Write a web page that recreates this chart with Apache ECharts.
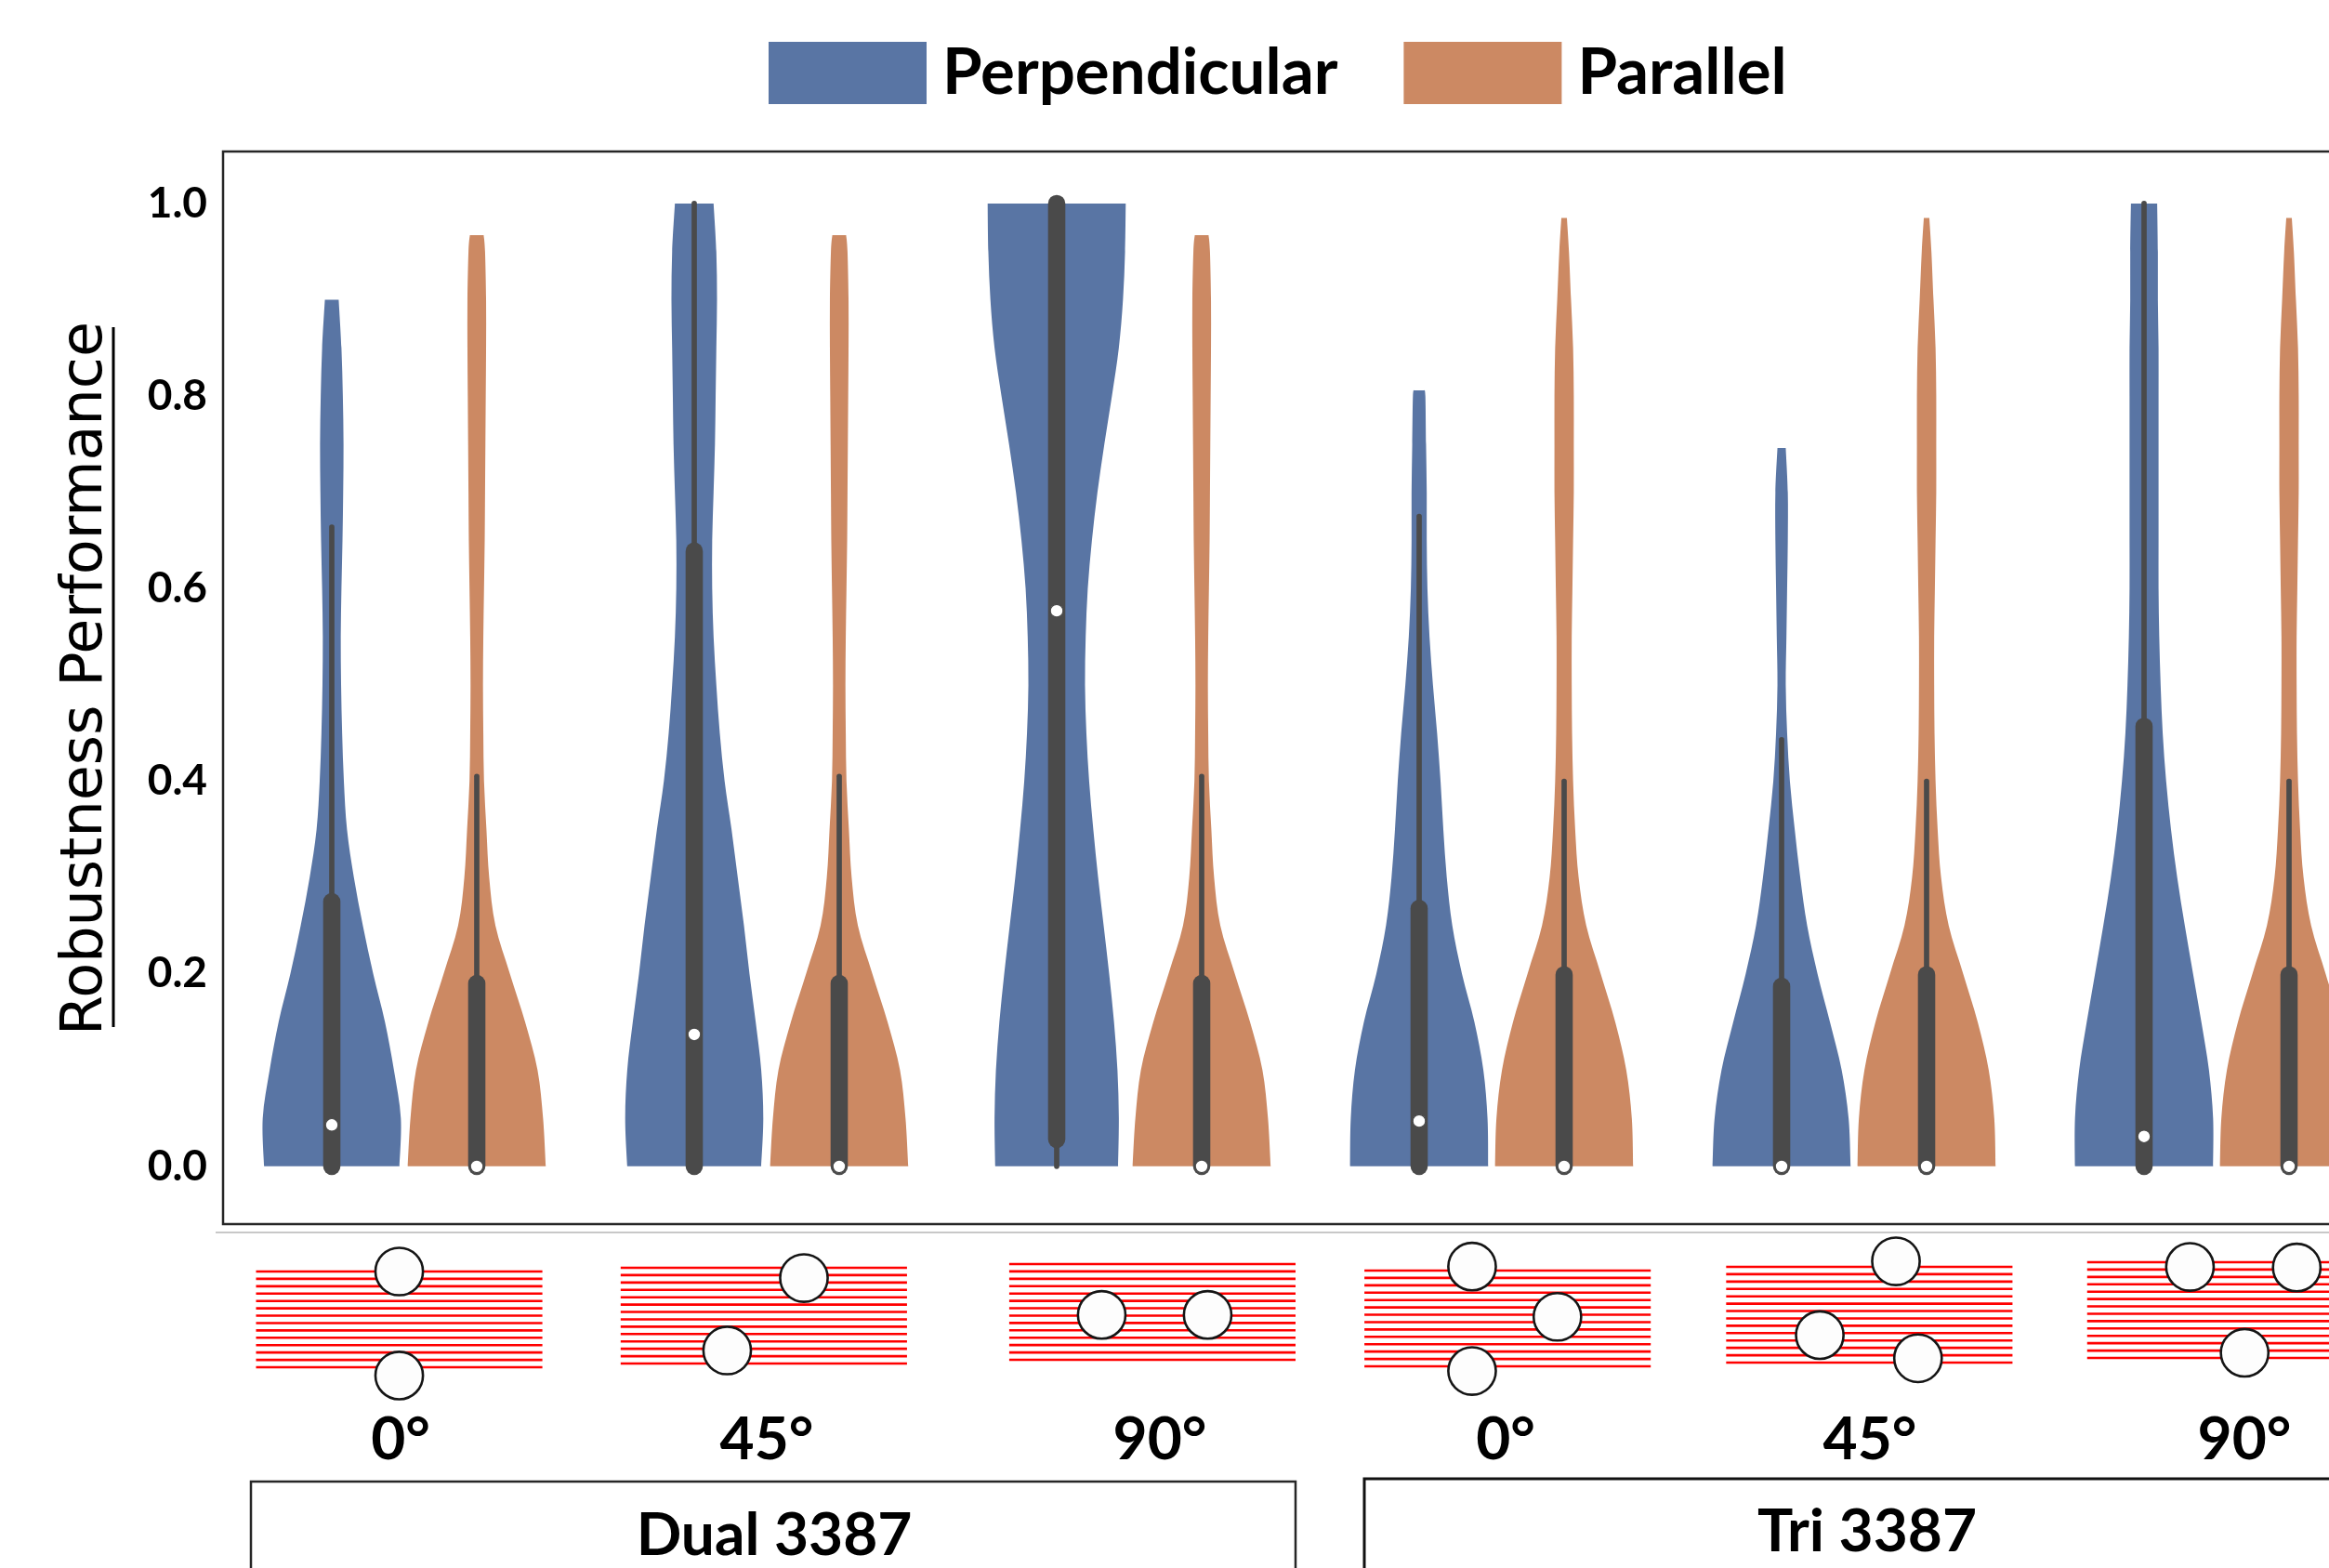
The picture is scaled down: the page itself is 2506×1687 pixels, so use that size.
<!DOCTYPE html>
<html><head><meta charset="utf-8">
<script src="https://cdn.jsdelivr.net/npm/echarts@6/dist/echarts.min.js"></script>
<style>html,body{margin:0;padding:0;background:#fff}#c{width:2506px;height:1687px}</style>
</head><body><div id="c"></div>
<script>
// ---------------- data ----------------
const angles = ['0°', '45°', '90°', '0°', '45°', '90°'];
const configs = ['Dual 3387', 'Dual 3387', 'Dual 3387', 'Tri 3387', 'Tri 3387', 'Tri 3387'];
const categories = angles.map((a, i) => configs[i] + ' ' + a);
const groupNames = ['Dual 3387', 'Tri 3387'];
const seriesNames = ['Perpendicular', 'Parallel'];
const yTicks = [0, 0.2, 0.4, 0.6, 0.8, 1.0];
const STEP = 0.05; // violin widths are read every 0.05, last entry is at the violin top

// Perpendicular violins: top value, relative widths (% of max), box stats [low, q1, median, q3, high]
const perpTop = [0.90, 1.0, 1.0, 0.806, 0.746, 1.0];
const perpWidth = [
  [98, 100, 90, 77, 60, 45, 32, 22, 17.5, 15, 13.5, 13, 14, 15.5, 16.5, 17, 16, 14, 10],
  [97, 100, 97, 89, 80, 72, 63, 54, 44, 37, 32, 28, 26, 26, 28, 30, 31, 32, 33, 32, 28],
  [89, 90, 88, 83, 76, 68, 60, 53, 47, 43, 41, 42, 45, 51, 59, 69, 80, 90, 96, 99, 100],
  [100, 99, 93, 80, 62, 48, 40, 35, 31, 26, 20, 15, 12, 11, 11, 10, 9, 7],
  [100, 97, 87, 70, 52, 37, 27, 19, 12, 8, 6, 7, 8, 9, 9, 6],
  [100, 100, 94, 83, 71, 59, 48, 39, 32, 27, 24, 22, 21, 21, 21, 21, 21, 21, 20, 20, 19]
];
const perpStats = [
  [0, 0, 0.043, 0.275, 0.664],
  [0, 0, 0.137, 0.639, 1.0],
  [0, 0.028, 0.577, 1.0, 1.0],
  [0, 0, 0.047, 0.268, 0.675],
  [0, 0, 0, 0.187, 0.443],
  [0, 0, 0.031, 0.457, 1.0]
];
// Parallel violins
const paraTop = [0.967, 0.967, 0.967, 0.985, 0.985, 0.985];
const paraWidth = [
  [100, 96, 88, 70, 48, 27, 18, 14, 10.5, 9.5, 9, 9.5, 10.5, 11.5, 12, 12.5, 13, 13.5, 13.5, 12, 10],
  [100, 96, 88, 70, 48, 27, 18, 14, 10.5, 9.5, 9, 9.5, 10.5, 11.5, 12, 12.5, 13, 13.5, 13.5, 12, 10],
  [100, 96, 88, 70, 48, 27, 18, 14, 10.5, 9.5, 9, 9.5, 10.5, 11.5, 12, 12.5, 13, 13.5, 13.5, 12, 10],
  [100, 98, 90, 74, 53, 32, 21, 16, 13, 11.5, 11, 11, 12, 13, 14, 14, 14, 13, 10, 7, 4],
  [100, 98, 90, 74, 53, 32, 21, 16, 13, 11.5, 11, 11, 12, 13, 14, 14, 14, 13, 10, 7, 4],
  [100, 98, 90, 74, 53, 32, 21, 16, 13, 11.5, 11, 11, 12, 13, 14, 14, 14, 13, 10, 7, 4]
];
const paraStats = [
  [0, 0, 0, 0.19, 0.405],
  [0, 0, 0, 0.19, 0.405],
  [0, 0, 0, 0.19, 0.405],
  [0, 0, 0, 0.199, 0.40],
  [0, 0, 0, 0.199, 0.40],
  [0, 0, 0, 0.199, 0.40]
];

// Schematic of each configuration: hole centres as fractions of the striped pad (x from pad centre, y from pad top)
const padHoles = [
  [[0, 0], [0, 1.087]],
  [[0.140, 0.107], [-0.128, 0.864]],
  [[-0.177, 0.531], [0.193, 0.531]],
  [[-0.124, -0.042], [0.174, 0.483], [-0.124, 1.049]],
  [[0.093, -0.058], [-0.173, 0.713], [0.170, 0.955]],
  [[-0.141, 0.049], [0.232, 0.055], [0.050, 0.946]]
];

// ---------------- layout / style ----------------
const BLUE = '#5975a4', ORANGE = '#cc8963', GRAY = '#4a4a4a';
const BOLD = 'Lato, "Noto Sans", sans-serif';
const padShift = [-0.014, -0.008, 0.064, 0.044, 0.042, 0.038]; // pad centre offset (band fraction)
const padTop = [38, 34, 30, 37, 33, 28];                        // in schematic-grid units (px)
const labelShift = [-4, 0, 33, 15, 17, 30];                     // px
const PAD_W = 0.79, PAD_H = 103, PAD_LINES = 14, HOLE_R = 0.083;
const HALF_MAX = 0.1905, DODGE = 0.2;

function smoothSide(pts) {
  let d = '';
  for (let k = 0; k < pts.length - 1; k++) {
    const p0 = pts[Math.max(k - 1, 0)], p1 = pts[k], p2 = pts[k + 1], p3 = pts[Math.min(k + 2, pts.length - 1)];
    const c1 = [p1[0] + (p2[0] - p0[0]) / 6, p1[1] + (p2[1] - p0[1]) / 6];
    const c2 = [p2[0] - (p3[0] - p1[0]) / 6, p2[1] - (p3[1] - p1[1]) / 6];
    d += ` C${c1[0]},${c1[1]} ${c2[0]},${c2[1]} ${p2[0]},${p2[1]}`;
  }
  return d;
}

function violinSeries(name, color, widths, tops, stats, offset) {
  return {
    type: 'custom', name, xAxisIndex: 0, yAxisIndex: 0,
    itemStyle: { color },
    data: categories.map((c, i) => [i]),
    renderItem(params, api) {
      const i = api.value(0);
      const band = api.size([1, 0])[0];
      const cx = api.coord([i, 0])[0] + offset * band;
      const prof = widths[i], top = tops[i];
      const maxHalf = HALF_MAX * band;
      const R = [], L = [];
      prof.forEach((w, k) => {
        const v = k === prof.length - 1 ? top : k * STEP;
        const y = api.coord([i, v])[1];
        const hw = w / 100 * maxHalf;
        R.push([cx + hw, y]); L.push([cx - hw, y]);
      });
      const Lr = L.slice().reverse();
      const d = `M${L[0][0]},${L[0][1]} L${R[0][0]},${R[0][1]}` + smoothSide(R) +
        ` L${Lr[0][0]},${Lr[0][1]}` + smoothSide(Lr) + ' Z';
      const s = stats[i];
      const yl = api.coord([i, s[0]])[1], yq1 = api.coord([i, s[1]])[1], ym = api.coord([i, s[2]])[1],
        yq3 = api.coord([i, s[3]])[1], yh = api.coord([i, s[4]])[1];
      return {
        type: 'group', children: [
          { type: 'path', shape: { pathData: d }, style: { fill: color } },
          { type: 'line', shape: { x1: cx, y1: yl, x2: cx, y2: yh }, style: { stroke: GRAY, lineWidth: 5.7, lineCap: 'round' } },
          { type: 'line', shape: { x1: cx, y1: yq1, x2: cx, y2: yq3 }, style: { stroke: GRAY, lineWidth: 18.6, lineCap: 'round' } },
          { type: 'circle', shape: { cx, cy: ym, r: 6.8 }, style: { fill: '#fff', stroke: GRAY, lineWidth: 1.2 } }
        ]
      };
    }
  };
}

const schematicSeries = {
  type: 'custom', name: 'schematic', xAxisIndex: 1, yAxisIndex: 1, silent: true,
  data: categories.map((c, i) => [i]),
  renderItem(params, api) {
    const i = api.value(0);
    const band = api.size([1, 0])[0];
    const cx = api.coord([i, 0])[0] + padShift[i] * band;
    const w = PAD_W * band;
    const top = api.coord([i, padTop[i]])[1];
    const h = api.size([0, PAD_H])[1];
    const children = [];
    for (let k = 0; k < PAD_LINES; k++) {
      const y = top + k * h / (PAD_LINES - 1);
      children.push({ type: 'line', shape: { x1: cx - w / 2, y1: y, x2: cx + w / 2, y2: y }, style: { stroke: '#ff0000', lineWidth: 2.6 } });
    }
    padHoles[i].forEach(p => {
      children.push({ type: 'circle', shape: { cx: cx + p[0] * w, cy: top + p[1] * h, r: HOLE_R * w },
        style: { fill: '#fdfdfd', stroke: '#151515', lineWidth: 2.6 } });
    });
    return { type: 'group', children };
  }
};

const chart = echarts.init(document.getElementById('c'), null, { renderer: 'canvas' });
chart.setOption({
  backgroundColor: '#fff',
  animation: false,
  legend: {
    data: seriesNames, left: 827, top: 44, padding: 0,
    icon: 'rect', itemWidth: 170, itemHeight: 67, itemGap: 71,
    textStyle: { fontFamily: BOLD, fontWeight: 'bold', fontSize: 69, color: '#000', padding: [0, 0, 0, 12] }
  },
  grid: [
    { left: 240, top: 163, width: 2340, height: 1154, outerBoundsMode: 'none', containLabel: false,
      show: true, borderColor: '#262626', borderWidth: 2.5, backgroundColor: 'transparent' },
    { left: 240, top: 1330, width: 2340, height: 200, outerBoundsMode: 'none', containLabel: false }
  ],
  xAxis: [
    {
      type: 'category', gridIndex: 0, boundaryGap: true,
      data: categories.map((c, i) => ({
        value: c,
        textStyle: { padding: labelShift[i] >= 0 ? [0, 0, 0, 2 * labelShift[i]] : [0, -2 * labelShift[i], 0, 0] }
      })),
      axisLine: { show: false }, axisTick: { show: false }, splitLine: { show: false },
      axisLabel: {
        margin: 200, fontFamily: BOLD, fontWeight: 'bold', fontSize: 64, color: '#000',
        formatter: (v, idx) => angles[idx]
      }
    },
    { type: 'category', gridIndex: 1, boundaryGap: true, data: categories, show: false }
  ],
  yAxis: [
    {
      type: 'value', gridIndex: 0, min: -0.06, max: 1.054,
      axisLine: { show: false }, axisTick: { show: false }, splitLine: { show: false },
      axisLabel: {
        margin: 17, fontFamily: BOLD, fontWeight: 'bold', fontSize: 46, color: '#000',
        formatter: v => {
          const t = yTicks.find(t => Math.abs(t - v) < 1e-6);
          return t === undefined ? '' : t.toFixed(1);
        }
      }
    },
    { type: 'value', gridIndex: 1, min: 0, max: 200, inverse: true, show: false }
  ],
  graphic: [
    { type: 'text', x: 93, y: 730, rotation: Math.PI / 2,
      style: { text: 'Robustness Performance', fontFamily: '"DejaVu Sans"', fontSize: 62, fill: '#000', align: 'center', verticalAlign: 'middle' } },
    { type: 'line', shape: { x1: 122, y1: 352, x2: 122, y2: 1105 }, style: { stroke: '#000', lineWidth: 3 } },
    { type: 'line', shape: { x1: 232, y1: 1326, x2: 2506, y2: 1326 }, style: { stroke: '#c8c8c8', lineWidth: 2 } },
    { type: 'rect', shape: { x: 270, y: 1594, width: 1124, height: 200 }, style: { fill: 'none', stroke: '#262626', lineWidth: 2.5 } },
    { type: 'rect', shape: { x: 1468, y: 1591, width: 1200, height: 200 }, style: { fill: 'none', stroke: '#111', lineWidth: 3 } },
    { type: 'text', x: 833, y: 1652,
      style: { text: groupNames[0], fontFamily: BOLD, fontWeight: 'bold', fontSize: 64, fill: '#000', align: 'center', verticalAlign: 'middle' } },
    { type: 'text', x: 2009, y: 1648,
      style: { text: groupNames[1], fontFamily: BOLD, fontWeight: 'bold', fontSize: 64, fill: '#000', align: 'center', verticalAlign: 'middle' } }
  ],
  series: [
    violinSeries(seriesNames[0], BLUE, perpWidth, perpTop, perpStats, -DODGE),
    violinSeries(seriesNames[1], ORANGE, paraWidth, paraTop, paraStats, DODGE),
    schematicSeries
  ]
});
</script>
</body></html>
